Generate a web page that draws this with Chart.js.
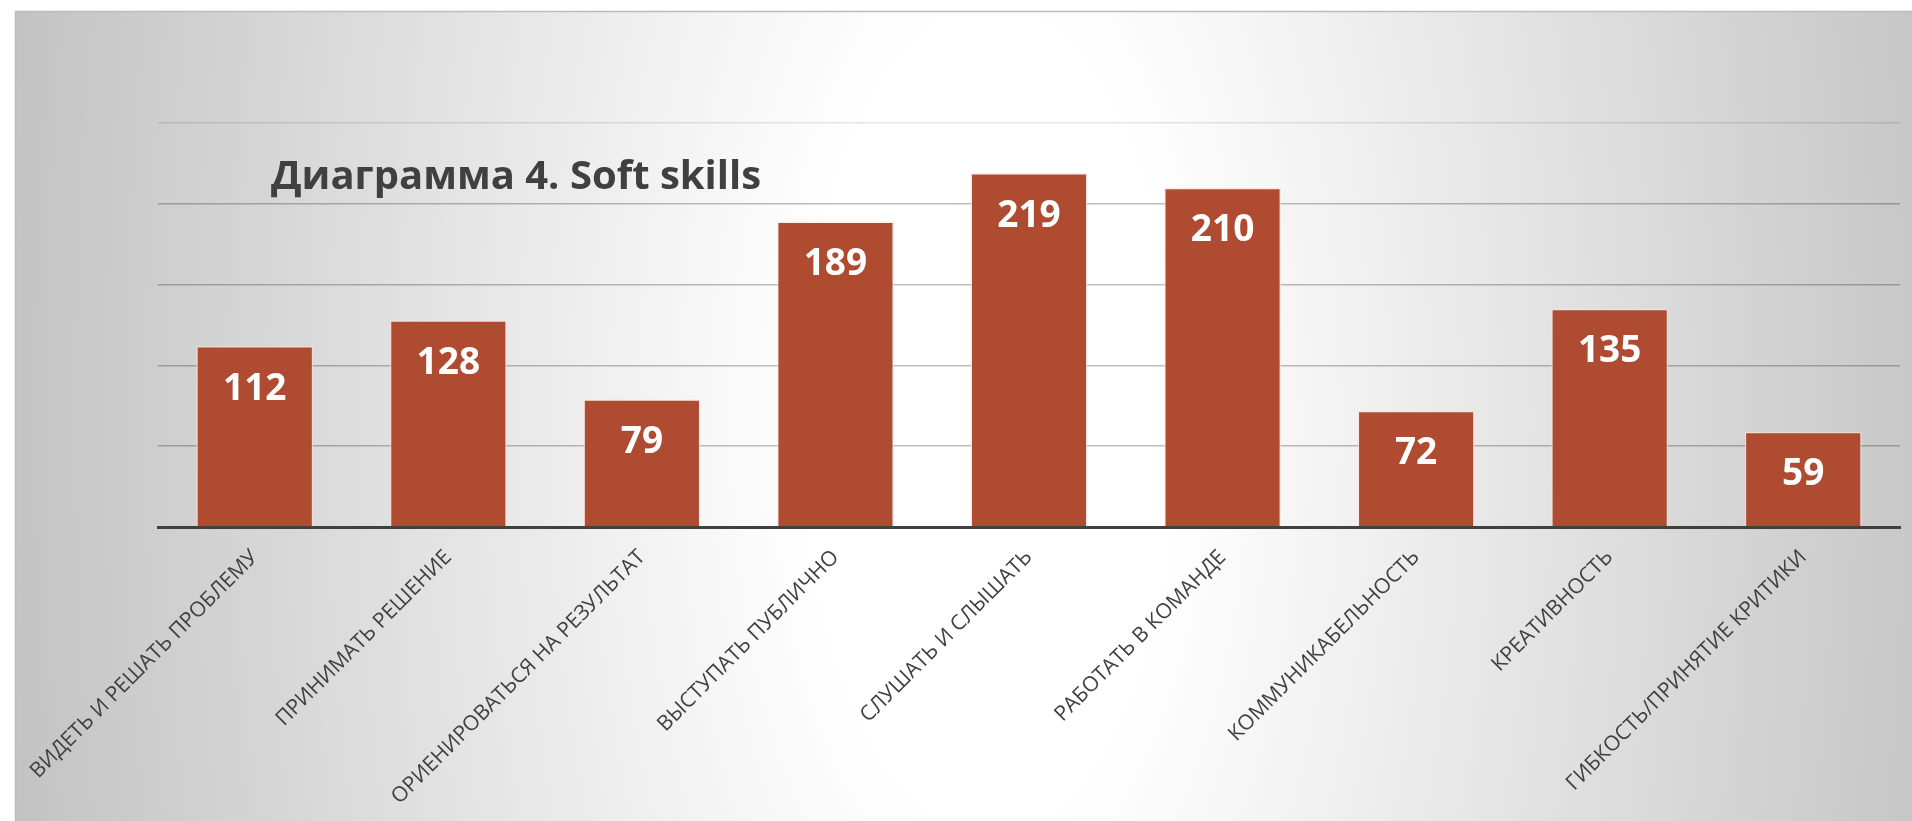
<!DOCTYPE html>
<html lang="ru">
<head>
<meta charset="utf-8">
<title>Диаграмма 4. Soft skills</title>
<script src="https://cdn.jsdelivr.net/npm/chart.js@4.4.1/dist/chart.umd.min.js"></script>
<style>
    html, body { margin: 0; padding: 0; background: #fff; }
    #wrap { position: relative; width: 1912px; height: 821px; }
</style>
</head>
<body>
<div id="wrap"><canvas id="grafik-soft"></canvas></div>
<script>
/* ============================================================
   ДИАГРАММА 4 — SOFT SKILLS
============================================================ */

const TITUL = "Диаграмма 4. Soft skills";

const NAVYKI = [
    "ВИДЕТЬ И РЕШАТЬ ПРОБЛЕМУ",
    "ПРИНИМАТЬ РЕШЕНИЕ",
    "ОРИЕНИРОВАТЬСЯ НА РЕЗУЛЬТАТ",
    "ВЫСТУПАТЬ ПУБЛИЧНО",
    "СЛУШАТЬ И СЛЫШАТЬ",
    "РАБОТАТЬ В КОМАНДЕ",
    "КОММУНИКАБЕЛЬНОСТЬ",
    "КРЕАТИВНОСТЬ",
    "ГИБКОСТЬ/ПРИНЯТИЕ КРИТИКИ"
];

const OTVETY = [112, 128, 79, 189, 219, 210, 72, 135, 59];

const Y_MAX = 250;
const Y_SHAG = 50;

const SHRIFT = "'Open Sans', 'Noto Sans', sans-serif";

/* Фон: рамка + вытянутый по вертикали градиент (светлый центр) */
const fonPlugin = {
    id: "fon",
    beforeDraw(chart) {
        const { ctx, width, height } = chart;
        ctx.save();
        ctx.fillStyle = "#fff";
        ctx.fillRect(0, 0, width, height);

        ctx.save();
        ctx.beginPath();
        ctx.rect(15, 11, width - 15, height - 11);
        ctx.clip();
        // эллипс: масштабируем по y, чтобы градиент был вытянут вертикально
        ctx.translate(990, 420);
        ctx.scale(1, 2.2);
        const g = ctx.createRadialGradient(0, 0, 0, 0, 0, 1000);
        g.addColorStop(0, "#ffffff");
        g.addColorStop(0.18, "#ffffff");
        g.addColorStop(1, "#c2c2c2");
        ctx.fillStyle = g;
        ctx.fillRect(-1100, -400, 2200, 800);
        ctx.restore();

        ctx.strokeStyle = "#bcbcbc";
        ctx.lineWidth = 1.5;
        ctx.beginPath();
        ctx.moveTo(15.5, height);
        ctx.lineTo(15.5, 11.5);
        ctx.lineTo(width, 11.5);
        ctx.stroke();
        ctx.restore();
    }
};

/* Заголовок и подписи значений внутри столбцов */
const podpisiPlugin = {
    id: "podpisi",
    afterDraw(chart) {
        const ctx = chart.ctx;
        ctx.save();

        ctx.fillStyle = "#404040";
        ctx.font = "bold 40px " + SHRIFT;
        ctx.textAlign = "left";
        ctx.textBaseline = "middle";
        ctx.fillText(TITUL, 271, 178);

        ctx.fillStyle = "#ffffff";
        ctx.font = "bold 37px " + SHRIFT;
        ctx.textAlign = "center";
        const meta = chart.getDatasetMeta(0);
        meta.data.forEach((bar, i) => {
            ctx.fillText(String(OTVETY[i]), bar.x, bar.y + 43);
        });
        ctx.restore();
    }
};

function risovatGrafik() {
    const ctx = document.getElementById("grafik-soft");

    new Chart(ctx, {
        type: "bar",
        data: {
            labels: NAVYKI,
            datasets: [{
                label: "Soft skills",
                data: OTVETY,
                backgroundColor: "#ae4b31",
                borderColor: "rgba(255, 225, 215, 0.6)",
                borderWidth: 1.5,
                categoryPercentage: 1,
                barPercentage: 0.605
            }]
        },
        options: {
            responsive: true,
            maintainAspectRatio: false,
            animation: false,
            layout: { padding: { left: 158, right: 12, top: 123, bottom: 0 } },
            plugins: {
                legend: { display: false },
                tooltip: { enabled: false }
            },
            scales: {
                x: {
                    grid: { display: false },
                    border: { display: true, color: "#404040", width: 3 },
                    ticks: {
                        color: "#404040",
                        font: { family: SHRIFT, size: 21 },
                        minRotation: 45,
                        maxRotation: 45,
                        autoSkip: false,
                        padding: 10
                    },
                    afterFit: s => { s.height = 294; }
                },
                y: {
                    min: 0,
                    max: Y_MAX,
                    z: 1,
                    ticks: { display: false, stepSize: Y_SHAG },
                    border: { display: false },
                    grid: {
                        drawTicks: false,
                        lineWidth: 1.5,
                        color: c => {
                            if (!c.tick || c.tick.value === 0) return "transparent";
                            return c.tick.value === Y_MAX ? "rgba(0, 0, 0, 0.1)" : "rgba(0, 0, 0, 0.25)";
                        }
                    },
                    afterFit: s => { s.width = 0; }
                }
            }
        },
        plugins: [fonPlugin, podpisiPlugin]
    });
}

risovatGrafik();
</script>
</body>
</html>
